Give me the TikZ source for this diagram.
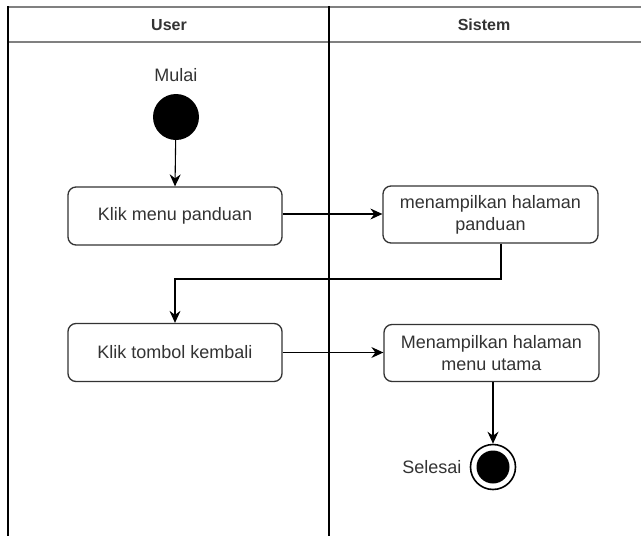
\documentclass[tikz,border=0pt]{standalone}
\usepackage{fontspec}
\setmainfont{Liberation Sans}
\usetikzlibrary{arrows.meta,calc}
\definecolor{lanegray}{HTML}{808080}
\definecolor{boxline}{HTML}{333333}
\definecolor{txt}{HTML}{333333}
\begin{document}
\begin{tikzpicture}[x=1pt,y=-1pt,
  every node/.style={font=\fontsize{18}{22}\selectfont, text=txt},
  action/.style={draw=boxline, line width=1.3pt, rounded corners=8pt, fill=white,
    minimum width=214pt, minimum height=58pt, align=center, inner sep=0pt},
  header/.style={font=\fontsize{16}{18}\selectfont\bfseries, text=txt},
  flow/.style={draw=black, line width=1.1pt,
    -{Stealth[length=12pt,width=11pt,inset=4pt]}},
  laneline/.style={draw=black, line width=1.6pt},
  headline/.style={draw=lanegray, line width=2.6pt},
  initial/.style={circle, fill=black, minimum size=46pt, inner sep=0pt},
  final/.style={circle, draw=black, line width=1.6pt, fill=white, minimum size=45pt, inner sep=0pt},
  finalcore/.style={circle, fill=black, minimum size=33pt, inner sep=0pt}]

  \useasboundingbox (0,0) rectangle (641,536);
  \fill[white] (0,0) rectangle (641,536);

  % swimlanes
  \draw[headline] (8,7) -- (641,7);
  \draw[headline] (8,42) -- (641,42);
  \draw[laneline] (8,6) -- (8,536);
  \draw[laneline] (329,6) -- (329,536);
  \node[header] (huser) at (169,25) {User};
  \node[header] (hsistem) at (484,25) {Sistem};

  % start
  \node[initial] (start) at (176,117) {};
  \node (mulai) at (176,75) {Mulai};

  % actions
  \node[action] (b1) at (175,216) {Klik menu panduan};
  \node[action, minimum width=215pt, minimum height=57pt] (b2) at (490.5,214.5) {menampilkan halaman\\panduan};
  \node[action] (b3) at (175,352.5) {Klik tombol kembali};
  \node[action, minimum width=215pt, minimum height=57pt] (b4) at (491.5,353) {Menampilkan halaman\\menu utama};

  % end
  \node[final] (end) at (493,467) {};
  \node[finalcore] (endcore) at (end.center) {};
  \node[anchor=east] (selesai) at (465,467) {Selesai};

  % connectors
  \coordinate (r1) at (501,279);
  \coordinate (r2) at (175,279);
  \draw[flow] (start) -- (b1.north);
  \draw[flow] (b1.east |- 0,214) -- (b2.west |- 0,214);
  \draw[flow] (r1 |- b2.south) -- (r1) -- (r2) -- (b3.north);
  \draw[flow] (b3.east) -- (b3.east -| b4.west);
  \draw[flow] (b4.south -| end) -- (end.north);
\end{tikzpicture}
\end{document}
